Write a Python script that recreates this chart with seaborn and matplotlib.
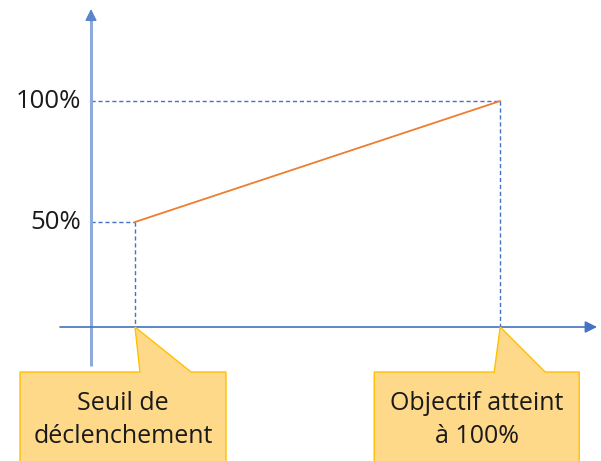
import matplotlib
matplotlib.use("Agg")
import matplotlib.pyplot as plt
import seaborn as sns
import pandas as pd
from matplotlib.patches import Polygon

# ---- data ----
points_x = [1.0, 9.3]          # seuil de déclenchement, objectif atteint
points_y = [50, 100]           # % payé
tick_values = [50, 100]
tick_labels = ["50%", "100%"]
callout_texts = ["Seuil de\ndéclenchement", "Objectif atteint\nà 100%"]

sns.set_style("white")
plt.rcParams['font.family'] = ['Open Sans', 'DejaVu Sans']

W, H = 601, 461
fig = plt.figure(figsize=(W / 100, H / 100), dpi=100)
ax = fig.add_axes([0, 0, 1, 1])
ax.set_axis_off()

# scale: pixels per data unit
sx = 44.0
sy = 2.42
x0_px = 91.0      # y-axis position in pixels (x=0)
y100_px = 101.0   # pixel row of 100%

def dx(p):
    return p / sx

def dy(p):
    return p / sy

axis_y = 100 - dy(327 - y100_px)   # x-axis level

blue = "#4472C4"
light_blue = "#8FAADC"
orange = "#ED7D31"

# main line
df = pd.DataFrame({"x": points_x, "y": points_y})
sns.lineplot(data=df, x="x", y="y", ax=ax, color=orange, lw=1.3, zorder=2)
ax.set_xlim(-x0_px / sx, (W - x0_px) / sx)
ax.set_ylim(100 - (H - y100_px) / sy, 100 + y100_px / sy)
ax.set_axis_off()

# y axis: light shaft + blue head
y_top = 100 + dy(y100_px - 9)
y_bot = 100 - dy(366 - y100_px)
ax.plot([0, 0], [y_bot, y_top - dy(10)], color=light_blue, lw=2.2, solid_capstyle="butt")
ax.annotate("", xy=(0, y_top), xytext=(0, y_top - dy(12)),
            arrowprops=dict(arrowstyle="-|>,head_length=0.7,head_width=0.35",
                            color="#5B84CC", lw=1, shrinkA=0, shrinkB=0))
# x axis arrow
ax.annotate("", xy=(dx(597 - x0_px), axis_y), xytext=(dx(60 - x0_px), axis_y),
            arrowprops=dict(arrowstyle="-|>,head_length=0.7,head_width=0.35",
                            color=blue, lw=1.2, shrinkA=0, shrinkB=0))

# dashed guides
for x, y in zip(points_x, points_y):
    ax.plot([0, x], [y, y], color=blue, lw=1, ls=(0, (3, 2)), zorder=1)
    ax.plot([x, x], [y, axis_y], color=blue, lw=1, ls=(0, (3, 2)), zorder=1)

# tick labels
for v, lab in zip(tick_values, tick_labels):
    ax.text(dx(81 - x0_px), v, lab, ha="right", va="center", fontsize=18.5, color="#1a1a1a")

# callouts
fill = "#FFD98A"
edge = "#FFC000"
callout_geom = [
    # left, right, base_a, base_b (pixel offsets relative to tip)
    (-115, 91, 5, 56),
    (-126, 79, -6, 45),
]
for x, txt, (l, r, ba, bb) in zip(points_x, callout_texts, callout_geom):
    top = axis_y - dy(45)
    bot = axis_y - dy(160)
    verts = [
        (x + dx(l), top),
        (x + dx(ba), top),
        (x, axis_y),
        (x + dx(bb), top),
        (x + dx(r), top),
        (x + dx(r), bot),
        (x + dx(l), bot),
    ]
    ax.add_patch(Polygon(verts, closed=True, facecolor=fill, edgecolor=edge, lw=1, zorder=3))
    cx = x + dx((l + r) / 2)
    ax.text(cx, axis_y - dy(93), txt, ha="center", va="center", fontsize=18,
            color="#1a1a1a", linespacing=1.42, zorder=4)

fig.savefig("out.png", dpi=100)
